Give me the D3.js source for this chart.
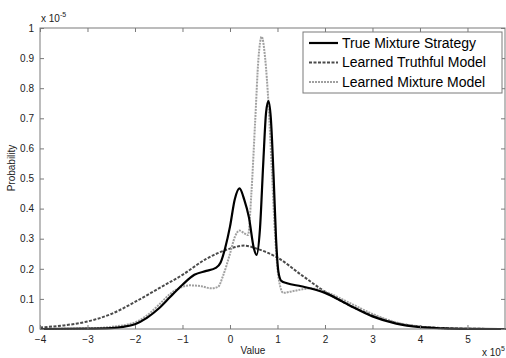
<!DOCTYPE html>
<html>
<head>
<meta charset="utf-8">
<script src="https://cdn.jsdelivr.net/npm/d3@7"></script>
<style>
  body { margin: 0; background: #fff; }
  svg { display: block; font-family: "Liberation Sans", Arial, sans-serif; }
</style>
</head>
<body>
<div class="chart"></div>
<script>
// values (x in units of 1e5, y in units of 1e-5)
const trueX = [-4, -3, -2.5, -2.25, -2, -1.75, -1.5, -1.25, -1, -0.75, -0.5, -0.3, -0.2, -0.1, 0, 0.1, 0.2, 0.3, 0.4, 0.5, 0.56, 0.63, 0.7, 0.76, 0.81, 0.86, 0.92, 0.97, 1.02, 1.08, 1.2, 1.5, 2, 2.5, 3, 3.5, 4, 4.5, 5, 5.8];
const trueY = [0, 0.001, 0.003, 0.007, 0.016, 0.037, 0.068, 0.108, 0.147, 0.18, 0.193, 0.203, 0.22, 0.27, 0.34, 0.43, 0.467, 0.43, 0.37, 0.27, 0.246, 0.33, 0.55, 0.72, 0.757, 0.7, 0.5, 0.3, 0.19, 0.16, 0.152, 0.142, 0.12, 0.08, 0.042, 0.018, 0.006, 0.002, 0.0005, 0];

const truthfulX = [-4, -3.5, -3, -2.5, -2, -1.5, -1, -0.5, 0, 0.3, 0.6, 1, 1.5, 2, 2.5, 3, 3.5, 4, 4.5, 5, 5.8];
const truthfulY = [0.005, 0.012, 0.025, 0.05, 0.09, 0.135, 0.18, 0.233, 0.267, 0.277, 0.265, 0.237, 0.18, 0.124, 0.08, 0.045, 0.02, 0.008, 0.003, 0.001, 0];

const mixX = [-4, -3, -2.5, -2, -1.75, -1.5, -1.25, -1, -0.85, -0.6, -0.4, -0.25, -0.15, 0, 0.1, 0.2, 0.3, 0.38, 0.45, 0.53, 0.6, 0.667, 0.74, 0.81, 0.88, 0.95, 1, 1.06, 1.12, 1.3, 1.7, 2, 2.5, 3, 3.5, 4, 4.5, 5, 5.8];
const mixY = [0, 0.002, 0.007, 0.022, 0.045, 0.08, 0.118, 0.14, 0.145, 0.142, 0.135, 0.14, 0.175, 0.25, 0.305, 0.327, 0.318, 0.312, 0.45, 0.69, 0.9, 0.971, 0.9, 0.75, 0.53, 0.31, 0.2, 0.14, 0.12, 0.125, 0.135, 0.124, 0.088, 0.05, 0.022, 0.008, 0.002, 0.0005, 0];

const xTicks = [-4, -3, -2, -1, 0, 1, 2, 3, 4, 5];
const yTicks = [0, 0.1, 0.2, 0.3, 0.4, 0.5, 0.6, 0.7, 0.8, 0.9, 1];
const legendLabels = ["True Mixture Strategy", "Learned Truthful Model", "Learned Mixture Model"];

const W = 506, H = 358;
const margin = {top: 28, right: 1, bottom: 29, left: 40};
const width = W - margin.left - margin.right;
const height = H - margin.top - margin.bottom;
const axisColor = "#7a7a7a";

const svg = d3.select(".chart").append("svg")
    .attr("width", W)
    .attr("height", H);
const g = svg.append("g")
    .attr("transform", "translate(" + margin.left + "," + margin.top + ")");

const x = d3.scaleLinear().domain([-4, 5.79]).range([0, width]);
const y = d3.scaleLinear().domain([0, 1]).range([height, 0]);

// curves
const line = d3.line()
    .x(d => x(d[0]))
    .y(d => y(d[1]))
    .curve(d3.curveMonotoneX);

const series = [
    {xs: truthfulX, ys: truthfulY, color: "#4a4a4a", width: 2, dash: "3,1.5"},
    {xs: mixX, ys: mixY, color: "#a0a0a0", width: 2, dash: "2,1"},
    {xs: trueX, ys: trueY, color: "#000", width: 2.2, dash: null}
];

g.selectAll(".curve")
    .data(series)
    .enter().append("path")
    .attr("class", "curve")
    .attr("d", s => line(s.xs.map((v, i) => [v, s.ys[i]])))
    .attr("fill", "none")
    .attr("stroke", s => s.color)
    .attr("stroke-width", s => s.width)
    .attr("stroke-dasharray", s => s.dash);

// axes, matlab style box with ticks inside
function styleAxis(sel) {
    sel.select(".domain").remove();
    sel.selectAll(".tick line").attr("stroke", axisColor);
    sel.selectAll(".tick text").attr("fill", "#222").style("font-size", "10px");
}

g.append("g")
    .attr("transform", "translate(0," + height + ")")
    .call(d3.axisBottom(x).tickValues(xTicks).tickSize(-4).tickPadding(7).tickFormat(d3.format("d")))
    .call(styleAxis);

g.append("g")
    .call(d3.axisTop(x).tickValues(xTicks).tickSize(-4).tickFormat(""))
    .call(styleAxis);

g.append("g")
    .call(d3.axisLeft(y).tickValues(yTicks).tickSize(-4).tickPadding(6).tickFormat(d => d === 0 || d === 1 ? d3.format("d")(d) : d3.format(".1f")(d)))
    .call(styleAxis);

g.append("g")
    .attr("transform", "translate(" + width + ",0)")
    .call(d3.axisRight(y).tickValues(yTicks).tickSize(-4).tickFormat(""))
    .call(styleAxis);

g.append("rect")
    .attr("width", width)
    .attr("height", height)
    .attr("fill", "none")
    .attr("stroke", axisColor)
    .attr("stroke-width", 1);

// labels
svg.append("text")
    .attr("x", margin.left + 213)
    .attr("y", H - 4)
    .attr("text-anchor", "middle")
    .style("font-size", "10px")
    .attr("fill", "#222")
    .text("Value");

svg.append("text")
    .attr("transform", "translate(15," + (margin.top + 140) + ") rotate(-90)")
    .attr("text-anchor", "middle")
    .style("font-size", "10px")
    .attr("fill", "#222")
    .text("Probability");

const expTop = svg.append("text")
    .attr("x", 41)
    .attr("y", 22)
    .style("font-size", "10px")
    .attr("fill", "#222");
expTop.append("tspan").text("x 10");
expTop.append("tspan").attr("dy", -5).style("font-size", "7px").text("-5");

const expBot = svg.append("text")
    .attr("x", 482)
    .attr("y", 356)
    .style("font-size", "10px")
    .attr("fill", "#222");
expBot.append("tspan").text("x 10");
expBot.append("tspan").attr("dy", -5).style("font-size", "7px").text("5");

// legend
const legend = svg.append("g").attr("transform", "translate(303,32)");
legend.append("rect")
    .attr("width", 199)
    .attr("height", 61)
    .attr("fill", "#fff")
    .attr("stroke", axisColor);

const legendStyles = [series[2], series[0], series[1]];
legendLabels.forEach((lab, i) => {
    const row = legend.append("g").attr("transform", "translate(0," + (11 + i * 19.5) + ")");
    row.append("line")
        .attr("x1", 6).attr("x2", 35)
        .attr("stroke", legendStyles[i].color)
        .attr("stroke-width", legendStyles[i].width)
        .attr("stroke-dasharray", legendStyles[i].dash);
    row.append("text")
        .attr("x", 39)
        .attr("dy", "0.35em")
        .style("font-size", "14px")
        .attr("fill", "#000")
        .text(lab);
});
</script>
</body>
</html>
